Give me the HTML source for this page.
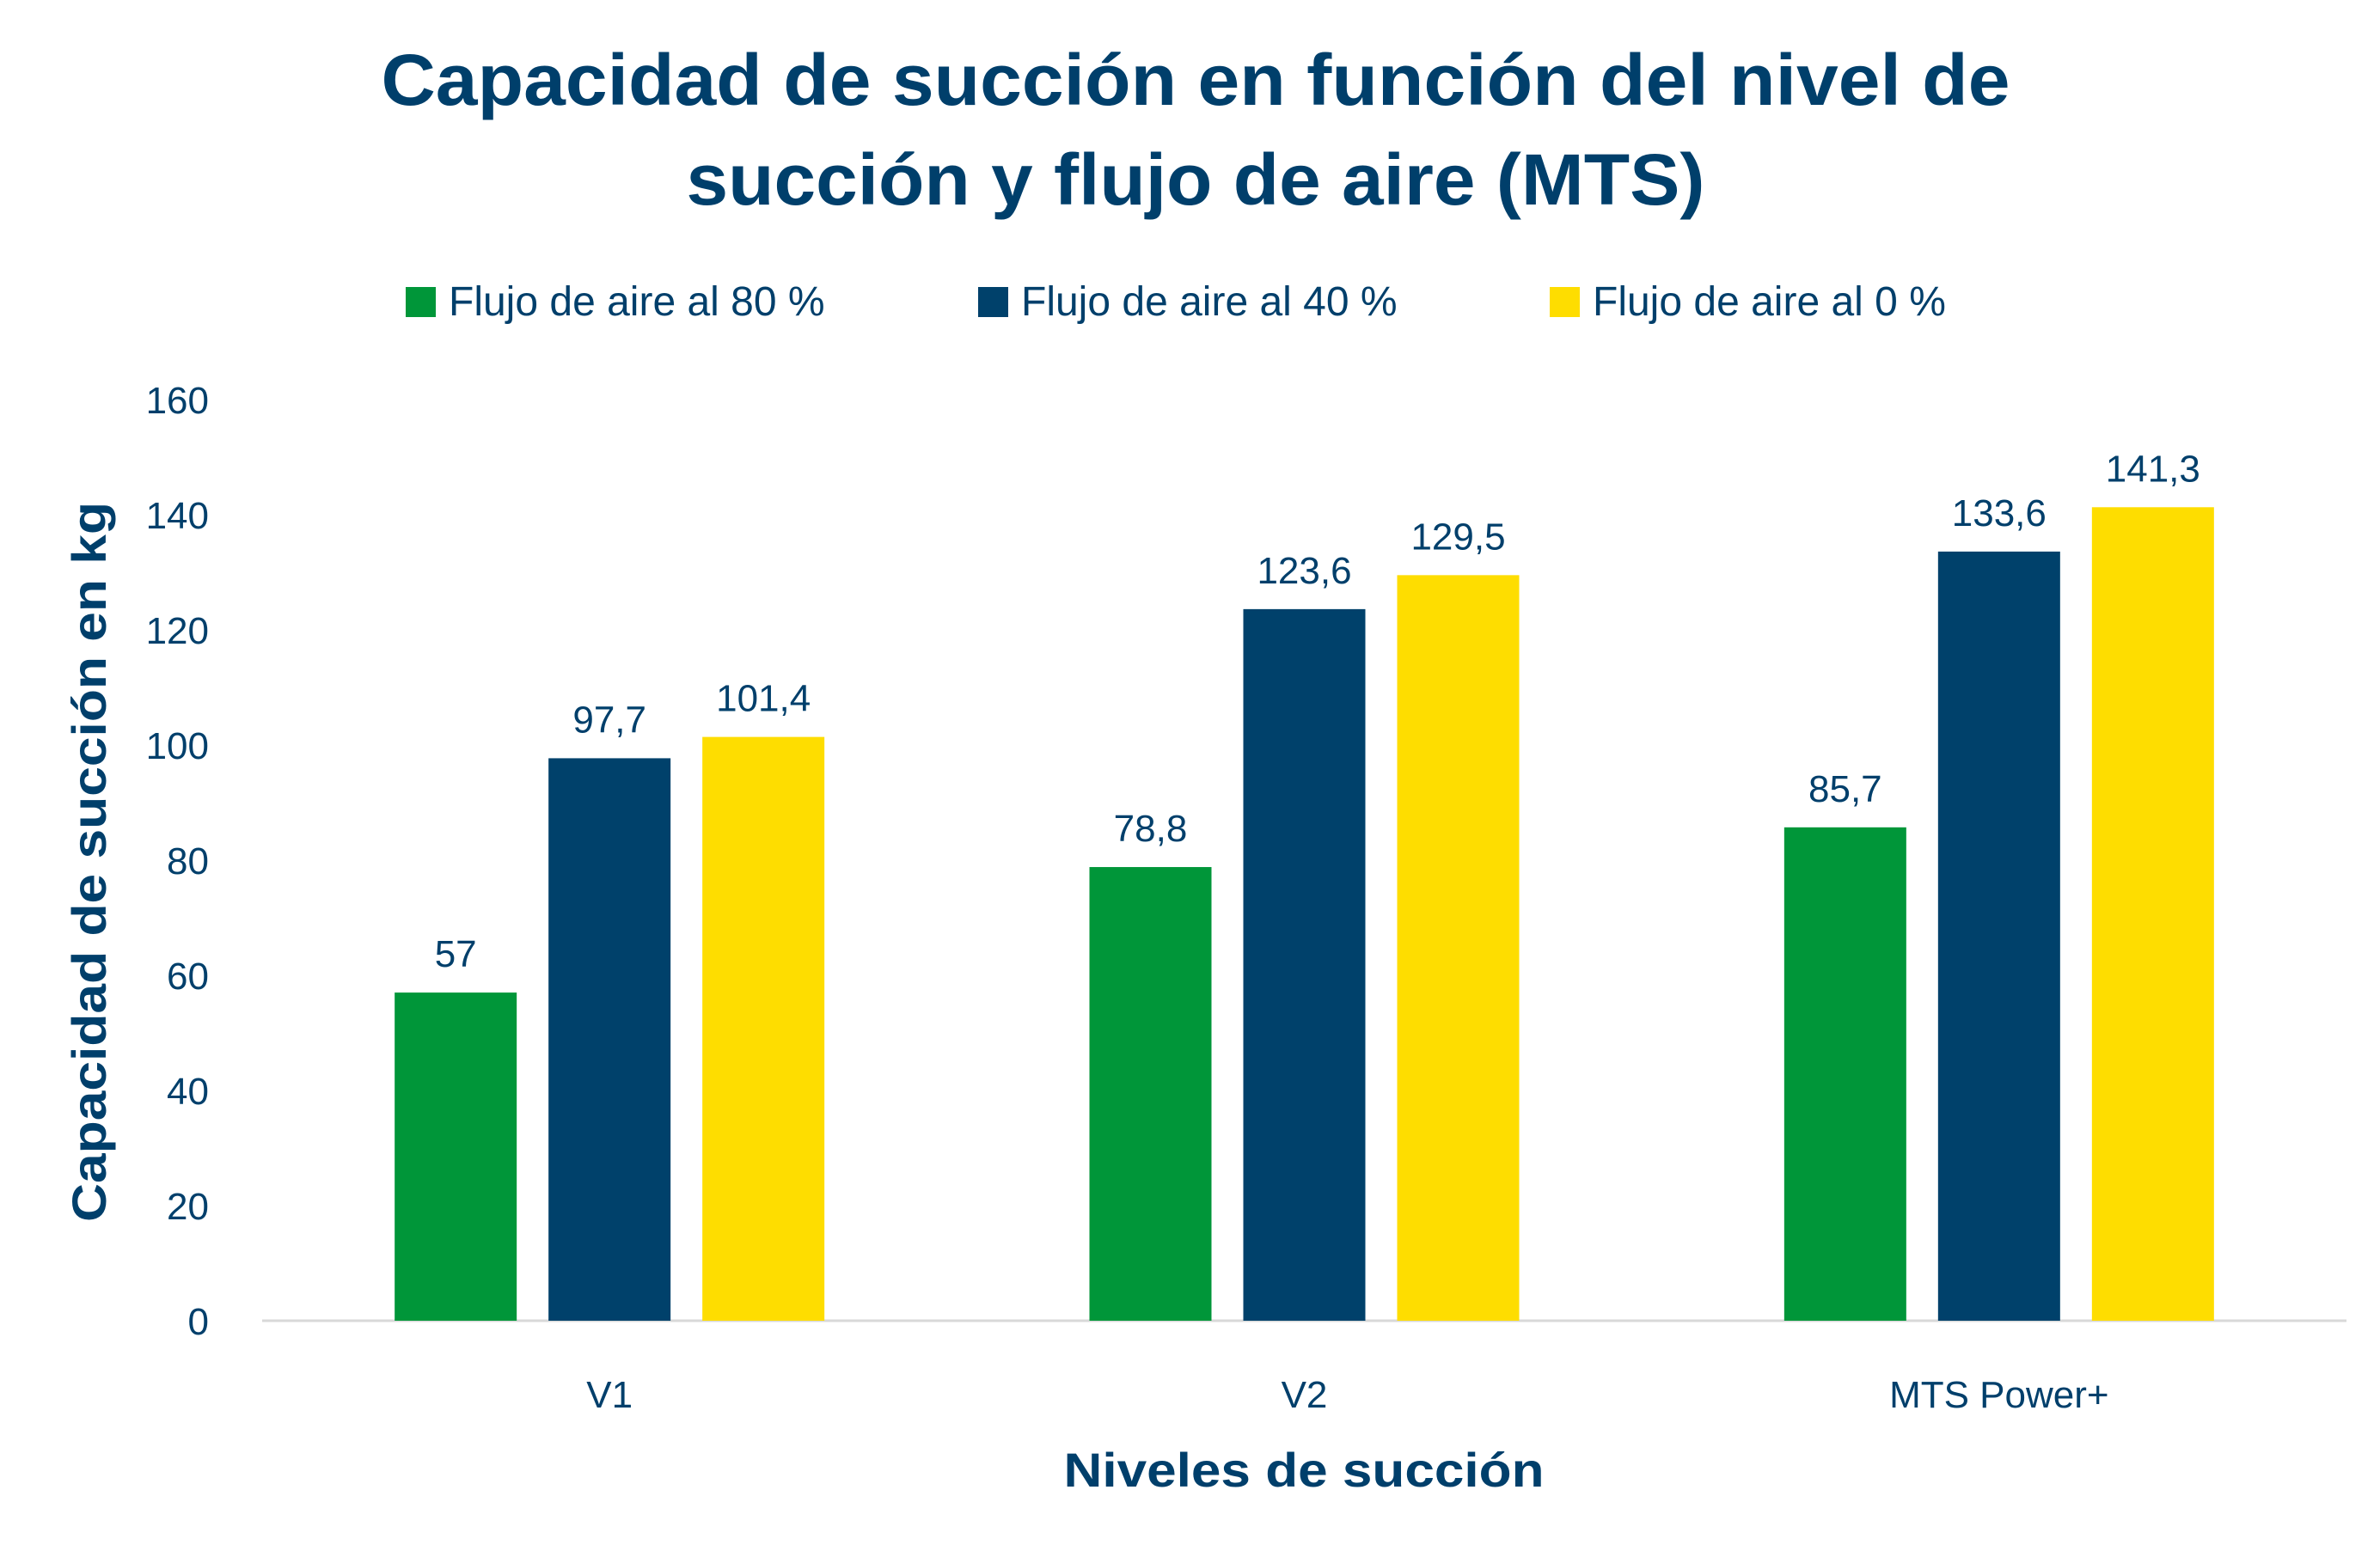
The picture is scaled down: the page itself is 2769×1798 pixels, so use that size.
<!DOCTYPE html>
<html><head><meta charset="utf-8"><style>
html,body{margin:0;padding:0;background:#fff;}
svg{display:block;font-family:"Liberation Sans",sans-serif;}
</style></head><body>
<svg id="chart" width="2769" height="1798" viewBox="0 0 2769 1798">
<g fill="#003F6B" font-weight="bold" font-size="84" text-anchor="middle">
<text x="1391" y="122" textLength="1895" lengthAdjust="spacingAndGlyphs">Capacidad de succión en función del nivel de</text>
<text x="1391" y="238" textLength="1185" lengthAdjust="spacingAndGlyphs">succión y flujo de aire (MTS)</text>
</g>
<g id="legend"></g>
<g id="yticks"></g>
<line x1="305" x2="2730" y1="1537" y2="1537" stroke="#D9D9D9" stroke-width="3"/>
<g id="bars"></g>
<g id="xlabels"></g>
<text x="1517" y="1730" text-anchor="middle" font-size="56" font-weight="bold" fill="#003F6B" textLength="559" lengthAdjust="spacingAndGlyphs">Niveles de succión</text>
<text transform="translate(123,1003) rotate(-90)" text-anchor="middle" font-size="56" font-weight="bold" fill="#003F6B" textLength="838" lengthAdjust="spacingAndGlyphs">Capacidad de succión en kg</text>
</svg>
<script>
const categories = ["V1", "V2", "MTS Power+"];
const seriesNames = ["Flujo de aire al 80 %", "Flujo de aire al 40 %", "Flujo de aire al 0 %"];
const flow80 = [57, 78.8, 85.7];
const flow40 = [97.7, 123.6, 133.6];
const flow0 = [101.4, 129.5, 141.3];
const yTicks = [0, 20, 40, 60, 80, 100, 120, 140, 160];

const NS = "http://www.w3.org/2000/svg";
const colors = ["#009639", "#00416B", "#FEDD00"];
const series = [flow80, flow40, flow0];
const plotL = 305, plotR = 2730, y0 = 1537, yTop = 465, yMax = 160;
const yScale = v => y0 - (v / yMax) * (y0 - yTop);
const band = (plotR - plotL) / categories.length;
const xCenter = i => plotL + band * (i + 0.5);
const barW = 142, step = 179;
function mk(tag, attrs, parent) {
  const e = document.createElementNS(NS, tag);
  for (const k in attrs) e.setAttribute(k, attrs[k]);
  parent.appendChild(e);
  return e;
}
const fmt = v => String(v).replace(".", ",");

const yg = document.getElementById("yticks");
yTicks.forEach(t => {
  const e = mk("text", {x: 243, y: yScale(t) + 16, "text-anchor": "end", "font-size": 44, fill: "#003F6B"}, yg);
  
  
  e.textContent = t;
});

const bg = document.getElementById("bars");
series.forEach((vals, s) => {
  vals.forEach((v, i) => {
    const cx = xCenter(i) + (s - 1) * step;
    const r = mk("rect", {x: cx - barW / 2, y: yScale(v), width: barW, height: y0 - yScale(v), fill: colors[s]}, bg);
    
    
    const t = mk("text", {x: cx, y: yScale(v) - 30, "text-anchor": "middle", "font-size": 44, fill: "#003F6B"}, bg);
    
    
    t.textContent = fmt(v);
  });
});

const xg = document.getElementById("xlabels");
categories.forEach((c, i) => {
  const t = mk("text", {x: xCenter(i), y: 1638, "text-anchor": "middle", "font-size": 44, fill: "#003F6B"}, xg);
  
  
  t.textContent = c;
});

const lg = document.getElementById("legend");
const legX = [472, 1138, 1803];
seriesNames.forEach((n, s) => {
  const r = mk("rect", {x: legX[s], y: 334, width: 35, height: 35, fill: colors[s]}, lg);
  
  
  const t = mk("text", {x: legX[s] + 50, y: 367, "font-size": 48, fill: "#003F6B"}, lg);
  
  
  t.textContent = n;
});
</script>
</body></html>
